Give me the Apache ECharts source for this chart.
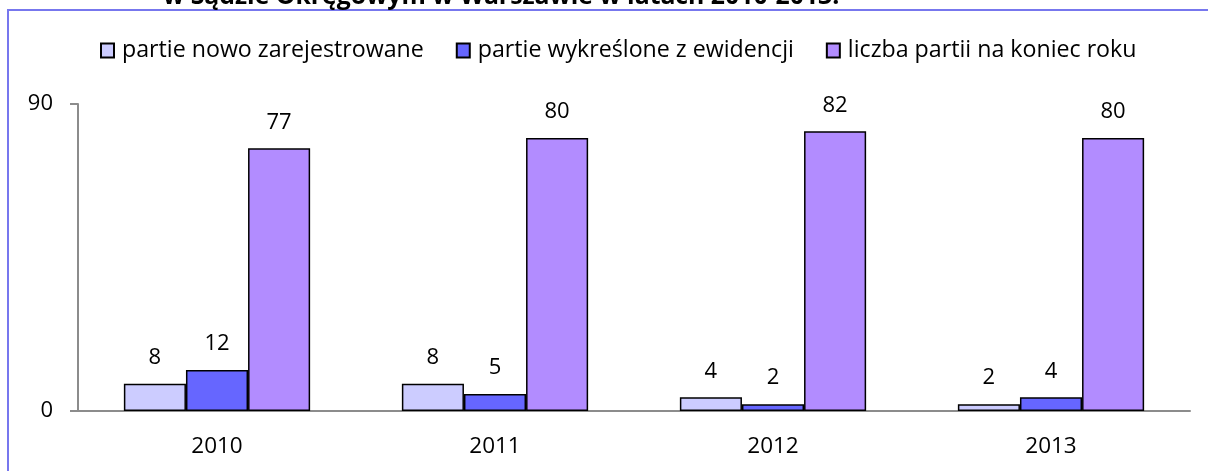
<!DOCTYPE html>
<html>
<head>
<meta charset="utf-8">
<script src="https://cdn.jsdelivr.net/npm/echarts@6/dist/echarts.min.js"></script>
<style>
  html, body { margin: 0; padding: 0; background: #fff; }
  #chart { width: 1208px; height: 471px; }
</style>
</head>
<body>
<div id="chart"></div>
<script>
// Data
const years = ['2010', '2011', '2012', '2013'];
const newlyRegistered = [8, 8, 4, 2];
const removed = [12, 5, 2, 4];
const totalAtYearEnd = [77, 80, 82, 80];
const seriesNames = [
  'partie nowo zarejestrowane',
  'partie wykreślone z ewidencji',
  'liczba partii na koniec roku'
];
const titleText = 'w Sądzie Okręgowym w Warszawie w latach 2010-2013.';

const FONT = '"Open Sans", Lato, sans-serif';
const COLORS = ['#ccccff', '#6666ff', '#b28cff'];

function barSeries(name, data, color) {
  return {
    name: name,
    type: 'bar',
    data: data,
    barGap: 0,
    barCategoryGap: '33%',
    itemStyle: { color: color, borderColor: '#000', borderWidth: 1.5 },
    label: {
      show: true,
      position: 'top',
      distance: 15,
      fontFamily: FONT,
      fontSize: 22,
      color: '#000'
    }
  };
}

const chart = echarts.init(document.getElementById('chart'));

chart.setOption({
  animation: false,
  backgroundColor: '#fff',
  title: {
    text: titleText,
    left: 158,
    top: -21,
    textStyle: { fontFamily: FONT, fontSize: 24.8, fontWeight: 'bold', color: '#000' }
  },
  // outer frame (only top and left edges visible)
  graphic: [{
    type: 'rect',
    shape: { x: 8, y: 10, width: 1400, height: 600 },
    style: { fill: 'none', stroke: '#7777ee', lineWidth: 2 },
    silent: true
  }],
  legend: {
    left: 100,
    top: 39,
    padding: 0,
    itemWidth: 13,
    itemHeight: 14,
    itemGap: 32,
    icon: 'rect',
    textStyle: { fontFamily: FONT, fontSize: 23.2, color: '#000', padding: [0, 0, 0, 3] },
    data: seriesNames
  },
  grid: { left: 78, right: 18, top: 104, bottom: 60 },
  xAxis: {
    type: 'category',
    data: years,
    axisLine: { lineStyle: { color: '#8c8c8c', width: 2 } },
    axisTick: { show: false },
    axisLabel: { fontFamily: FONT, fontSize: 22.5, color: '#000', margin: 24 }
  },
  yAxis: {
    type: 'value',
    min: 0,
    max: 90,
    interval: 90,
    axisLine: { show: true, lineStyle: { color: '#8c8c8c', width: 2 } },
    axisTick: { show: true, length: 8, lineStyle: { color: '#8c8c8c', width: 2 } },
    splitLine: { show: false },
    axisLabel: { fontFamily: FONT, fontSize: 22, color: '#000', margin: 25 }
  },
  series: [
    barSeries(seriesNames[0], newlyRegistered, COLORS[0]),
    barSeries(seriesNames[1], removed, COLORS[1]),
    barSeries(seriesNames[2], totalAtYearEnd, COLORS[2])
  ]
});

window.addEventListener('resize', () => chart.resize());
</script>
</body>
</html>
